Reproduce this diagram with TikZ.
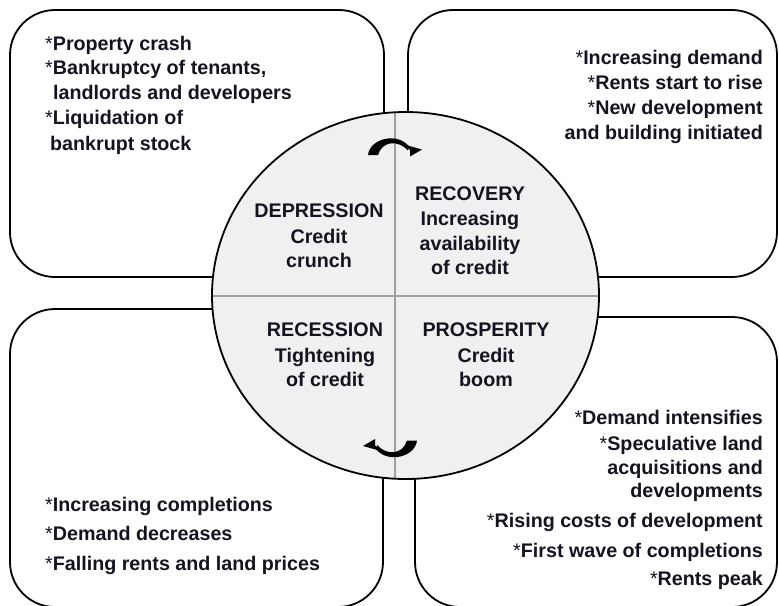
\documentclass[tikz,border=0pt]{standalone}
\usepackage{fontspec}
\setmainfont{Liberation Sans}
\usetikzlibrary{arrows.meta}
\definecolor{cycfill}{HTML}{F0F0F0}
\definecolor{divgrey}{HTML}{A0A0A0}
\definecolor{txtc}{HTML}{141420}
\newcommand{\bst}{\textmd{*}}
\begin{document}
\begin{tikzpicture}[x=1pt,y=-1pt,
  box/.style={draw=black,line width=1.8pt,rounded corners=45pt,fill=white},
  txt/.style={inner sep=0pt,text=txtc,font=\fontsize{19.7}{24}\selectfont\bfseries},
  lt/.style={txt,anchor=base west},
  rt/.style={txt,anchor=base east},
  ct/.style={txt,anchor=base},
  cyclearrow/.pic={
    \fill (-27,7.5) .. controls (-25,-9.5) and (3,-15.5) .. (14,-1)
      -- (13,3) .. controls (3,-8) and (-13,-6.5) .. (-17,7.5) -- cycle;
    \fill (9,-3) -- (27,2) -- (15,9) -- (15,2.5) -- cycle;
  }]
\clip (0,0) rectangle (779,605);
\fill[white] (0,0) rectangle (779,605);

% quadrant boxes
\draw[box] (10,10) rectangle (384,277);
\draw[box] (408,10) rectangle (777,277);
\draw[box] (10,309) rectangle (383,607);
\draw[box] (415,317) rectangle (777,607);

% central cycle
\fill[cycfill] (405.5,295.5) ellipse [x radius=193.5pt, y radius=183.5pt];
\coordinate (vt) at (395,112.3);
\coordinate (vb) at (395,478.7);
\coordinate (hl) at (212,296);
\coordinate (hr) at (599,296);
\draw[divgrey,line width=1.8pt] (vt) -- (vb);
\draw[divgrey,line width=1.8pt] (hl) -- (hr);
\draw[black,line width=1.8pt] (405.5,295.5) ellipse [x radius=193.5pt, y radius=183.5pt];

% cycle arrows
\pic at (395,147.5) {cyclearrow};
\pic[rotate=180] at (390,448) {cyclearrow};

% top-left text
\node[lt] (tl1) at (45,50) {\bst Property crash};
\node[lt] (tl2) at (45,74.5) {\bst Bankruptcy of tenants,};
\node[lt] (tl3) at (53,99.5) {landlords and developers};
\node[lt] (tl4) at (45,124.5) {\bst Liquidation of};
\node[lt] (tl5) at (50,150) {bankrupt stock};

% top-right text
\node[rt] (tr1) at (763,64) {\bst Increasing demand};
\node[rt] (tr2) at (763,89) {\bst Rents start to rise};
\node[rt] (tr3) at (763,114) {\bst New development};
\node[rt] (tr4) at (763,139) {and building initiated};

% circle labels
\node[ct] (dep1) at (319,217) {DEPRESSION};
\node[ct] (dep2) at (319,243) {Credit};
\node[ct] (dep3) at (319,267) {crunch};

\node[ct] (rec1) at (470,200) {RECOVERY};
\node[ct] (rec2) at (470,225.5) {Increasing};
\node[ct] (rec3) at (470,250) {availability};
\node[ct] (rec4) at (470,274) {of credit};

\node[ct] (res1) at (325,336) {RECESSION};
\node[ct] (res2) at (325,362) {Tightening};
\node[ct] (res3) at (325,386) {of credit};

\node[ct] (pro1) at (486,336) {PROSPERITY};
\node[ct] (pro2) at (486,362) {Credit};
\node[ct] (pro3) at (486,386) {boom};

% bottom-left text
\node[lt] (bl1) at (45,511) {\bst Increasing completions};
\node[lt] (bl2) at (45,540.5) {\bst Demand decreases};
\node[lt] (bl3) at (45,570) {\bst Falling rents and land prices};

% bottom-right text
\node[rt] (br1) at (763,424) {\bst Demand intensifies};
\node[rt] (br2) at (763,450) {\bst Speculative land};
\node[rt] (br3) at (763,474) {acquisitions and};
\node[rt] (br4) at (763,497.5) {developments};
\node[rt] (br5) at (763,527) {\bst Rising costs of development};
\node[rt] (br6) at (763,557) {\bst First wave of completions};
\node[rt] (br7) at (763,585) {\bst Rents peak};
\end{tikzpicture}
\end{document}
